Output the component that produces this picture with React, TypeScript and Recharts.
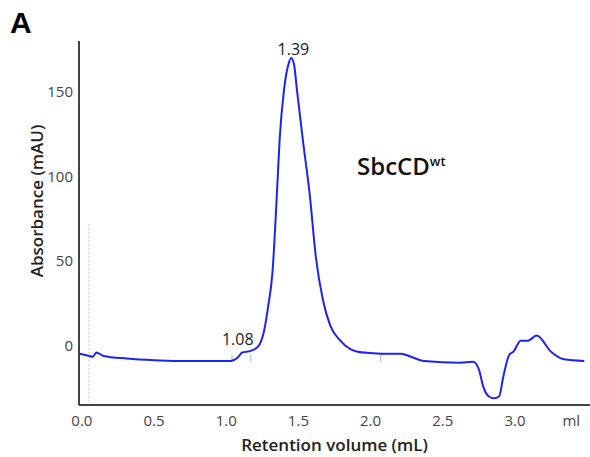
import { LineChart, Line, XAxis, YAxis, ReferenceLine, ReferenceDot, Label } from "recharts";

// retention volume (mL) and absorbance (mAU)
const retention = [
  -0.02, 0.0, 0.05, 0.076, 0.1, 0.15, 0.31, 0.5, 0.77, 1.03, 1.08, 1.11, 1.17, 1.22, 1.26, 1.29, 1.32, 1.35,
  1.37, 1.4, 1.43, 1.45, 1.47, 1.49, 1.53, 1.58, 1.62, 1.67, 1.72, 1.79, 1.86, 1.91, 2.0, 2.07, 2.21, 2.28, 2.37,
  2.62, 2.71, 2.75, 2.78, 2.82, 2.855, 2.89, 2.92, 2.96, 2.99, 3.04, 3.09, 3.15, 3.25, 3.34, 3.48,
];
const absorbance = [
  -4.5, -5, -6, -6.5, -4, -6, -7.5, -8.5, -9, -9, -7, -4, -3, -0.5, 8, 23, 43, 88,
  122, 151, 166, 170, 166, 151, 122, 88, 53, 27, 12, 3, -2, -3.5, -4.3, -4.7, -4.7, -6.5, -9,
  -10, -9.5, -14, -24, -30, -31, -30, -18, -5.5, -3.5, 3, 3, 6, -3.5, -8, -9,
];

const xTicks = [0, 0.5, 1.0, 1.5, 2.0, 2.5, 3.0, 3.39];
const yTicks = [0, 50, 100, 150];
const fractionMarks = [1.04, 1.17, 2.07];

const data = retention.map((x, i) => ({ x, y: absorbance[i] }));

const font = "'Open Sans', 'DejaVu Sans', sans-serif";

export default function App() {
  return (
    <div style={{ position: "absolute", left: 0, top: 0, width: 590, height: 457, background: "#fff" }}>
      <LineChart width={590} height={457} data={data} margin={{ top: 41, right: 0, bottom: 0, left: 0 }}>
        <XAxis
          dataKey="x"
          type="number"
          domain={[-0.02, 3.52]}
          ticks={xTicks}
          allowDataOverflow
          tickFormatter={(v) => (v > 3.2 ? "ml" : v.toFixed(1))}
          tickLine={false}
          tickSize={0}
          tickMargin={10}
          height={52}
          axisLine={{ stroke: "#444", strokeWidth: 2 }}
          tick={{ fill: "#444", fontSize: 15, fontFamily: font }}
        >
          <Label
            value="Retention volume (mL)"
            position="insideBottom"
            offset={6}
            style={{ fill: "#222", fontSize: 17, fontWeight: 600, fontFamily: font }}
          />
        </XAxis>
        <YAxis
          dataKey="y"
          type="number"
          domain={[-35, 180]}
          ticks={yTicks}
          allowDataOverflow
          tickLine={false}
          tickSize={0}
          tickMargin={6}
          width={79}
          axisLine={{ stroke: "#444", strokeWidth: 2 }}
          tick={{ fill: "#444", fontSize: 15, fontFamily: font }}
        />
        <ReferenceLine
          segment={[{ x: 0.05, y: 72 }, { x: 0.05, y: -35 }]}
          stroke="#f2a8f2"
          strokeDasharray="2 2"
          strokeWidth={1}
        />
        {fractionMarks.map((m) => (
          <ReferenceLine
            key={m}
            segment={[{ x: m, y: -5 }, { x: m, y: -9.5 }]}
            stroke="#a8b4f8"
            strokeWidth={1}
          />
        ))}
        <Line
          type="monotone"
          dataKey="y"
          stroke="#1f22f2"
          strokeWidth={2}
          dot={false}
          isAnimationActive={false}
        />
        <ReferenceDot x={1.465} y={175} r={0} ifOverflow="visible">
          <Label value="1.39" position="center" style={{ fill: "#222", fontSize: 16, fontFamily: font }} />
        </ReferenceDot>
        <ReferenceDot x={1.08} y={3.5} r={0} ifOverflow="visible">
          <Label value="1.08" position="center" style={{ fill: "#222", fontSize: 16, fontFamily: font }} />
        </ReferenceDot>
      </LineChart>
      <svg
        width={590}
        height={457}
        style={{ position: "absolute", left: 0, top: 0, pointerEvents: "none" }}
      >
        <text x={36} y={201} transform="rotate(-90, 36, 201)" textAnchor="middle" dominantBaseline="central"
          style={{ fill: "#222", fontSize: 17, fontWeight: 600, fontFamily: font }}>
          Absorbance (mAU)
        </text>
        <text x={10} y={33} style={{ fill: "#000", fontSize: 30, fontWeight: 700, fontFamily: "'Liberation Sans', Arial, sans-serif" }}>
          A
        </text>
        <text x={357} y={175} style={{ fill: "#111", fontSize: 24, fontWeight: 600, fontFamily: font }}>
          SbcCD
          <tspan dy={-9} style={{ fontSize: 13 }}>wt</tspan>
        </text>
      </svg>
    </div>
  );
}
